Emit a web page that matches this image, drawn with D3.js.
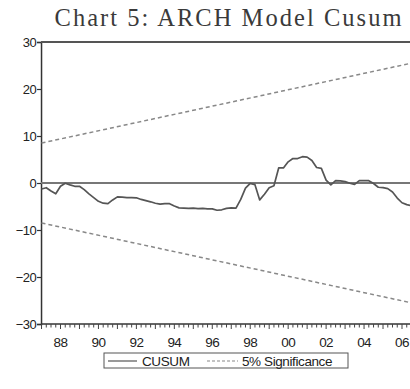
<!DOCTYPE html>
<html><head><meta charset="utf-8">
<script src="https://cdn.jsdelivr.net/npm/d3@7/dist/d3.min.js"></script>
<style>body{margin:0;background:#fff}svg{display:block}</style>
</head><body>
<svg id="c" width="410" height="389"></svg>
<script>
// Quarterly CUSUM, 1987Q1 ..
const startYear = 1987;
const cusum = [-1.28,-1.0,-1.7,-2.3,-0.7,-0.05,-0.4,-0.7,-0.7,-1.4,-2.3,-3.1,-3.9,-4.3,-4.4,-3.6,
 -2.95,-3.0,-3.1,-3.1,-3.15,-3.5,-3.75,-4.0,-4.3,-4.5,-4.4,-4.4,-4.9,-5.3,-5.35,-5.4,-5.35,-5.45,
 -5.4,-5.5,-5.5,-5.8,-5.7,-5.4,-5.3,-5.35,-3.5,-1.1,-0.1,-0.35,-3.6,-2.4,-1.0,-0.6,3.2,3.2,4.5,
 5.2,5.2,5.6,5.5,4.8,3.3,3.1,0.6,-0.4,0.5,0.45,0.3,-0.05,-0.3,0.5,0.5,0.5,-0.1,-0.9,-1.0,-1.2,
 -1.9,-3.2,-4.2,-4.6,-4.8];
const sigStart = 8.5, sigEnd = 25.5;
const yTicks = [30,20,10,0,-10,-20,-30];
const xLabelYears = [1988,1990,1992,1994,1996,1998,2000,2002,2004,2006];
const xLabels = ["88","90","92","94","96","98","00","02","04","06"];
const legendLabels = ["CUSUM","5% Significance"];
const titleText = "Chart 5: ARCH Model Cusum";

const svg = d3.select("#c");
const dates = cusum.map((v,i)=>startYear + i/4);
const lastDate = dates[dates.length-1];

const x = d3.scaleLinear().domain([1988, 2006]).range([60.5, 402]);
const y = d3.scaleLinear().domain([-30, 30]).range([324, 42]);
const left = x(startYear) - 0.5;

// title
svg.append("text").attr("x", 228).attr("y", 26).attr("text-anchor","middle")
  .attr("font-family","Liberation Serif, serif").attr("font-size",24.5).attr("fill","#3a3a3a")
  .attr("textLength",347).attr("lengthAdjust","spacing").text(titleText);

// y axis
const ya = svg.append("g").attr("transform",`translate(${left},0)`)
  .call(d3.axisLeft(y).tickValues(yTicks).tickSize(4).tickFormat(d3.format("d")));
ya.select(".domain").attr("stroke","#333").attr("stroke-width",1.5);
ya.selectAll(".tick line").attr("stroke","#333").attr("stroke-width",1.2);
ya.selectAll(".tick text").attr("font-family","Liberation Sans, Arial, sans-serif")
  .attr("font-size",13).attr("fill","#222").attr("letter-spacing","-0.6").attr("x",-5);

// top border
svg.append("line").attr("x1",left).attr("x2",410).attr("y1",y(30)).attr("y2",y(30))
  .attr("stroke","#555").attr("stroke-width",2);

// x axis: quarterly minor ticks, yearly major
const minorVals = d3.range(0, 80).map(i=>startYear + i/4).filter(d=>x(d)<=410);
const xa = svg.append("g").attr("transform",`translate(0,${y(-30)})`);
xa.append("line").attr("x1",left).attr("x2",410).attr("stroke","#333").attr("stroke-width",1.5);
xa.selectAll("line.t").data(minorVals).join("line").attr("class","t")
  .attr("x1",d=>x(d)).attr("x2",d=>x(d)).attr("y1",0)
  .attr("y2",d=>Math.abs(d-Math.round(d))<1e-6 ? 5 : 3.5)
  .attr("stroke","#444").attr("stroke-width",1);
xa.selectAll("text").data(xLabelYears).join("text")
  .attr("x",d=>x(d)).attr("y",23).attr("text-anchor","middle")
  .attr("font-family","Liberation Sans, Arial, sans-serif").attr("font-size",13.5)
  .attr("letter-spacing","-0.6").attr("fill","#222").text((d,i)=>xLabels[i]);

// zero line
svg.append("line").attr("x1",left).attr("x2",410).attr("y1",y(0)).attr("y2",y(0))
  .attr("stroke","#777").attr("stroke-width",2);

// significance lines
[1,-1].forEach(s=>{
  svg.append("path").datum([[startYear, s*sigStart],[lastDate, s*sigEnd]])
    .attr("d", d3.line().x(d=>x(d[0])).y(d=>y(d[1])))
    .attr("fill","none").attr("stroke","#888").attr("stroke-width",1.5).attr("stroke-dasharray","4,3");
});

// cusum
svg.append("path").datum(cusum)
  .attr("d", d3.line().x((d,i)=>x(dates[i])).y(d=>y(d)))
  .attr("fill","none").attr("stroke","#555").attr("stroke-width",1.7).attr("stroke-linejoin","round");

// legend
const lg = svg.append("g");
lg.append("rect").attr("x",104).attr("y",353).attr("width",244).attr("height",15)
  .attr("fill","#fff").attr("stroke","#555").attr("stroke-width",1);
lg.append("line").attr("x1",108).attr("x2",137).attr("y1",361).attr("y2",361)
  .attr("stroke","#555").attr("stroke-width",1.2);
lg.append("text").attr("x",142).attr("y",366).attr("font-family","Liberation Sans, Arial, sans-serif")
  .attr("font-size",13.5).attr("letter-spacing","-0.4").attr("fill","#222").text(legendLabels[0]);
lg.append("line").attr("x1",207).attr("x2",238).attr("y1",361).attr("y2",361)
  .attr("stroke","#888").attr("stroke-width",1.2).attr("stroke-dasharray","3,2");
lg.append("text").attr("x",242).attr("y",366).attr("font-family","Liberation Sans, Arial, sans-serif")
  .attr("font-size",13.5).attr("letter-spacing","-0.4").attr("fill","#222").text(legendLabels[1]);
</script>
</body></html>
